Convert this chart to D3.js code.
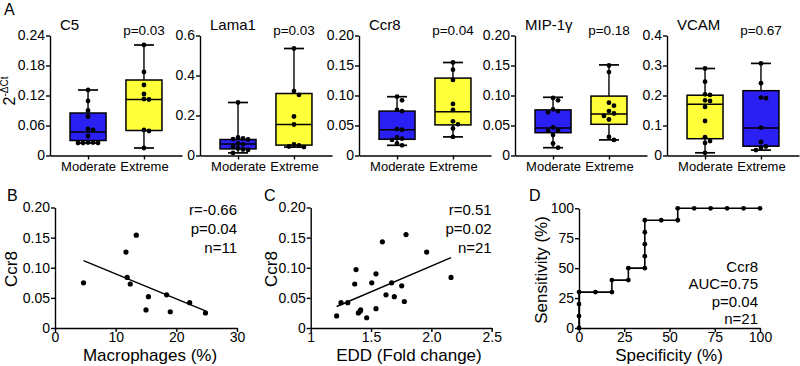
<!DOCTYPE html>
<html>
<head>
<meta charset="utf-8">
<script src="https://cdn.jsdelivr.net/npm/d3@7"></script>
<style>
  body { margin: 0; background: #fff; }
  svg { display: block; font-family: Arial, "Liberation Sans", sans-serif; }
</style>
</head>
<body>
<div id="chart"></div>
<script>
// ---------- data ----------
const genes = ["C5", "Lama1", "Ccr8", "MIP-1γ", "VCAM"];
const groups = ["Moderate", "Extreme"];
const pLabels = ["p=0.03", "p=0.03", "p=0.04", "p=0.18", "p=0.67"];
const yMaxes = [0.24, 0.6, 0.2, 0.2, 0.4];
const yTicks = [
  [0, 0.06, 0.12, 0.18, 0.24],
  [0, 0.2, 0.4, 0.6],
  [0, 0.05, 0.1, 0.15, 0.2],
  [0, 0.05, 0.1, 0.15, 0.2],
  [0, 0.1, 0.2, 0.3, 0.4]
];
const yTickLabels = [
  ["0", "0.06", "0.12", "0.18", "0.24"],
  ["0", "0.2", "0.4", "0.6"],
  ["0", "0.05", "0.10", "0.15", "0.20"],
  ["0", "0.05", "0.10", "0.15", "0.20"],
  ["0", "0.1", "0.2", "0.3", "0.4"]
];

// box stats: [min, q1, median, q3, max] for Moderate, Extreme
const c5Box = [[0.025, 0.030, 0.047, 0.085, 0.131], [0.015, 0.050, 0.112, 0.151, 0.221]];
const lama1Box = [[0.013, 0.033, 0.058, 0.080, 0.265], [0.042, 0.052, 0.155, 0.310, 0.535]];
const ccr8Box = [[0.017, 0.027, 0.043, 0.074, 0.098], [0.031, 0.051, 0.073, 0.129, 0.155]];
const mipBox = [[0.013, 0.038, 0.046, 0.076, 0.097], [0.026, 0.052, 0.069, 0.099, 0.151]];
const vcamBox = [[0.009, 0.056, 0.171, 0.201, 0.290], [0.018, 0.031, 0.092, 0.216, 0.307]];

// individual points
const c5Moderate = [0.131, 0.109, 0.090, 0.078, 0.053, 0.051, 0.039, 0.026, 0.026, 0.025, 0.025, 0.025];
const c5Extreme = [0.221, 0.167, 0.141, 0.123, 0.113, 0.112, 0.051, 0.049, 0.015];
const lama1Moderate = [0.265, 0.090, 0.085, 0.082, 0.080, 0.060, 0.056, 0.045, 0.035, 0.030, 0.028, 0.013];
const lama1Extreme = [0.535, 0.322, 0.303, 0.195, 0.155, 0.055, 0.050, 0.045, 0.042];
const ccr8Moderate = [0.098, 0.092, 0.076, 0.074, 0.044, 0.043, 0.030, 0.028, 0.026, 0.020, 0.017];
const ccr8Extreme = [0.155, 0.143, 0.126, 0.086, 0.076, 0.057, 0.052, 0.045, 0.031];
const mipModerate = [0.096, 0.092, 0.077, 0.074, 0.072, 0.047, 0.042, 0.041, 0.034, 0.020, 0.013];
const mipExtreme = [0.150, 0.139, 0.088, 0.083, 0.074, 0.070, 0.066, 0.060, 0.031, 0.026];
const vcamModerate = [0.290, 0.246, 0.204, 0.202, 0.184, 0.182, 0.162, 0.115, 0.061, 0.048, 0.042, 0.009];
const vcamExtreme = [0.307, 0.241, 0.193, 0.191, 0.093, 0.045, 0.030, 0.026, 0.018];

// panel B: Ccr8 vs macrophages
const macrophages = [4.7, 11.7, 13.4, 11.9, 12.4, 15.4, 15.0, 18.4, 19.0, 22.2, 24.8];
const ccr8VsMac = [0.075, 0.126, 0.154, 0.084, 0.073, 0.052, 0.030, 0.055, 0.027, 0.042, 0.025];
const statsB = ["r=-0.66", "p=0.04", "n=11"];

// panel C: Ccr8 vs EDD
const eddFold = [1.215, 1.251, 1.307, 1.365, 1.376, 1.395, 1.409, 1.414, 1.464, 1.506, 1.541,
  1.541, 1.594, 1.624, 1.671, 1.693, 1.754, 1.776, 1.790, 1.961, 2.163];
const ccr8VsEdd = [0.020, 0.042, 0.042, 0.073, 0.097, 0.025, 0.028, 0.030, 0.017, 0.075, 0.090,
  0.032, 0.143, 0.055, 0.075, 0.052, 0.070, 0.044, 0.155, 0.126, 0.084];
const statsC = ["r=0.51", "p=0.02", "n=21"];

// panel D: ROC
const specificity = [0, 0, 0, 0, 9.09, 18.18, 18.18, 27.27, 27.27, 36.36, 36.36, 36.36, 36.36, 36.36,
  45.45, 54.55, 54.55, 63.64, 72.73, 81.82, 90.91, 100];
const sensitivity = [0, 10, 20, 30, 30, 30, 40, 40, 50, 50, 60, 70, 80, 90, 90, 90, 100, 100, 100, 100, 100, 100];
const statsD = ["Ccr8", "AUC=0.75", "p=0.04", "n=21"];

// ---------- drawing ----------
const W = 800, H = 366;
const BLUE = "#2b20f4", YELLOW = "#ffff3a";
const svg = d3.select("#chart").append("svg").attr("width", W).attr("height", H);

function styleAxis(g, fontSize) {
  g.selectAll(".domain").attr("stroke", "#000").attr("stroke-width", 1.4);
  g.selectAll(".tick line").attr("stroke", "#000").attr("stroke-width", 1.4);
  g.selectAll(".tick text").attr("fill", "#000").style("font-size", fontSize + "px")
    .style("font-family", "Arial, 'Liberation Sans', sans-serif");
}

// place dots so they don't overlap (simple horizontal swarm)
function swarm(values, y, r) {
  const pts = values.map((v) => ({ v, py: y(v) })).sort((a, b) => a.py - b.py);
  const placed = [];
  const step = 2 * r + 0.2;
  pts.forEach((p) => {
    for (let k = 0; k < 20; k++) {
      const off = k === 0 ? 0 : (k % 2 ? 1 : -1) * Math.ceil(k / 2) * step;
      const hit = placed.some((q) => Math.hypot(q.dx - off, q.py - p.py) < 2 * r + 0.1);
      if (!hit) { p.dx = off; placed.push(p); break; }
    }
  });
  return placed;
}

// panel A: box plots
const boxStats = [c5Box, lama1Box, ccr8Box, mipBox, vcamBox];
const boxPoints = [
  [c5Moderate, c5Extreme], [lama1Moderate, lama1Extreme], [ccr8Moderate, ccr8Extreme],
  [mipModerate, mipExtreme], [vcamModerate, vcamExtreme]
];
const panelLeft = [50, 200, 359, 515, 667];
const topY = [155.5, 35.5];
const panelW = 132;

genes.forEach((gene, i) => {
  const g = svg.append("g").attr("transform", `translate(${panelLeft[i]},0)`);
  const x = d3.scalePoint().domain(groups).range([0, panelW]).padding(0.68);
  const y = d3.scaleLinear().domain([0, yMaxes[i]]).range(topY);

  const fills = gene === "VCAM" ? [YELLOW, BLUE] : [BLUE, YELLOW];

  groups.forEach((grp, j) => {
    const [mn, q1, md, q3, mx] = boxStats[i][j];
    const cx = x(grp);
    const bw = 36, cap = 20;
    // whisker
    g.append("line").attr("x1", cx).attr("x2", cx).attr("y1", y(mx)).attr("y2", y(mn))
      .attr("stroke", "#000").attr("stroke-width", 1.4);
    [mn, mx].forEach((v) => {
      g.append("line").attr("x1", cx - cap / 2).attr("x2", cx + cap / 2)
        .attr("y1", y(v)).attr("y2", y(v)).attr("stroke", "#000").attr("stroke-width", 1.7);
    });
    g.append("rect").attr("x", cx - bw / 2).attr("y", y(q3)).attr("width", bw)
      .attr("height", y(q1) - y(q3)).attr("fill", fills[j]).attr("stroke", "#000").attr("stroke-width", 1.5);
    g.append("line").attr("x1", cx - bw / 2).attr("x2", cx + bw / 2)
      .attr("y1", y(md)).attr("y2", y(md)).attr("stroke", "#000").attr("stroke-width", 1.5);

    // dots
    const r = 2.4;
    swarm(boxPoints[i][j], y, r).forEach((p) => {
      g.append("circle").attr("cx", cx + p.dx).attr("cy", p.py).attr("r", r).attr("fill", "#000");
    });
  });

  const yAxis = g.append("g").call(
    d3.axisLeft(y).tickValues(yTicks[i]).tickFormat((d, k) => yTickLabels[i][k])
      .tickSize(4).tickSizeOuter(0).tickPadding(1)
  );
  styleAxis(yAxis, 14);

  const xAxis = g.append("g").attr("transform", `translate(0,${topY[0]})`).call(
    d3.axisBottom(x).tickSize(4).tickSizeOuter(0).tickPadding(2)
  );
  styleAxis(xAxis, 13);

  g.append("text").attr("x", 10).attr("y", 29.5).style("font-size", "15px").text(gene);
  g.append("text").attr("x", x(groups[1])).attr("y", 34.5).attr("text-anchor", "middle")
    .style("font-size", "13.5px").text(pLabels[i]);
});

// y label for row A
const yLabA = svg.append("text").attr("transform", "translate(15,91) rotate(-90)")
  .attr("text-anchor", "middle");
yLabA.append("tspan").style("font-size", "16px").text("2");
yLabA.append("tspan").style("font-size", "10px").attr("dy", -7).text("-ΔCt");

// panel letters
[["A", 4, 15], ["B", 7, 201], ["C", 264, 201], ["D", 529, 201]].forEach(([t, px, py]) => {
  svg.append("text").attr("x", px).attr("y", py).style("font-size", "16px").text(t);
});

// scatter panels
const botY = [328, 207.5];

function scatterPanel(xRange, xDomain, xTickVals, xTickLabs, xs, ys, stats, xLabel, xLabelCx, yLabelX) {
  const x = d3.scaleLinear().domain(xDomain).range(xRange);
  const y = d3.scaleLinear().domain([0, 0.2]).range(botY);
  const g = svg.append("g");

  // least-squares fit
  const mx = d3.mean(xs), my = d3.mean(ys);
  const slope = d3.sum(xs, (v, k) => (v - mx) * (ys[k] - my)) / d3.sum(xs, (v) => (v - mx) ** 2);
  const ext = d3.extent(xs);
  g.append("line")
    .attr("x1", x(ext[0])).attr("y1", y(my + slope * (ext[0] - mx)))
    .attr("x2", x(ext[1])).attr("y2", y(my + slope * (ext[1] - mx)))
    .attr("stroke", "#000").attr("stroke-width", 1.4);

  g.selectAll(".dot").data(xs).enter().append("circle")
    .attr("cx", (d) => x(d)).attr("cy", (d, k) => y(ys[k])).attr("r", 2.6).attr("fill", "#000");

  const yAxis = g.append("g").attr("transform", `translate(${xRange[0]},0)`).call(
    d3.axisLeft(y).tickValues([0, 0.05, 0.1, 0.15, 0.2])
      .tickFormat((d) => (d === 0 ? "0" : d.toFixed(2))).tickSize(4).tickSizeOuter(0).tickPadding(1)
  );
  styleAxis(yAxis, 14);
  const xAxis = g.append("g").attr("transform", `translate(0,${botY[0]})`).call(
    d3.axisBottom(x).tickValues(xTickVals).tickFormat((d, k) => xTickLabs[k])
      .tickSize(4).tickSizeOuter(0).tickPadding(0)
  );
  styleAxis(xAxis, 14);

  stats.forEach((s, k) => {
    g.append("text").attr("x", xRange[1]).attr("y", 214.5 + k * 19.3).attr("text-anchor", "end")
      .style("font-size", "15px").text(s);
  });
  g.append("text").attr("x", xLabelCx).attr("y", 361).attr("text-anchor", "middle")
    .style("font-size", "17px").text(xLabel);
  g.append("text").attr("transform", `translate(${yLabelX},269) rotate(-90)`)
    .attr("text-anchor", "middle").style("font-size", "17px").text("Ccr8");
}

scatterPanel([55, 237], [0, 30], [0, 10, 20, 30], ["0", "10", "20", "30"],
  macrophages, ccr8VsMac, statsB, "Macrophages (%)", 150, 17);
scatterPanel([310.7, 491.7], [1, 2.5], [1, 1.5, 2, 2.5], ["1", "1.5", "2.0", "2.5"],
  eddFold, ccr8VsEdd, statsC, "EDD (Fold change)", 409, 277);

// panel D: ROC curve
{
  const x = d3.scaleLinear().domain([0, 100]).range([579, 760]);
  const y = d3.scaleLinear().domain([0, 100]).range([328, 208.3]);
  const g = svg.append("g");
  const pts = specificity.map((s, k) => [s, sensitivity[k]]);
  g.append("path").datum(pts)
    .attr("d", d3.line().x((d) => x(d[0])).y((d) => y(d[1])))
    .attr("fill", "none").attr("stroke", "#000").attr("stroke-width", 1.6);
  g.selectAll(".dot").data(pts).enter().append("circle")
    .attr("cx", (d) => x(d[0])).attr("cy", (d) => y(d[1])).attr("r", 2.4).attr("fill", "#000");

  const ticks = [0, 25, 50, 75, 100];
  const yAxis = g.append("g").attr("transform", "translate(579,0)").call(
    d3.axisLeft(y).tickValues(ticks).tickSize(4).tickSizeOuter(0).tickPadding(1)
  );
  styleAxis(yAxis, 14);
  const xAxis = g.append("g").attr("transform", "translate(0,328)").call(
    d3.axisBottom(x).tickValues(ticks).tickSize(4).tickSizeOuter(0).tickPadding(0)
  );
  styleAxis(xAxis, 14);

  statsD.forEach((s, k) => {
    g.append("text").attr("x", 758).attr("y", 271.5 + k * 17.5).attr("text-anchor", "end")
      .style("font-size", "15px").text(s);
  });
  g.append("text").attr("x", 669).attr("y", 361).attr("text-anchor", "middle")
    .style("font-size", "17px").text("Specificity (%)");
  g.append("text").attr("transform", "translate(547,270) rotate(-90)")
    .attr("text-anchor", "middle").style("font-size", "17px").text("Sensitivity (%)");
}
</script>
</body>
</html>
